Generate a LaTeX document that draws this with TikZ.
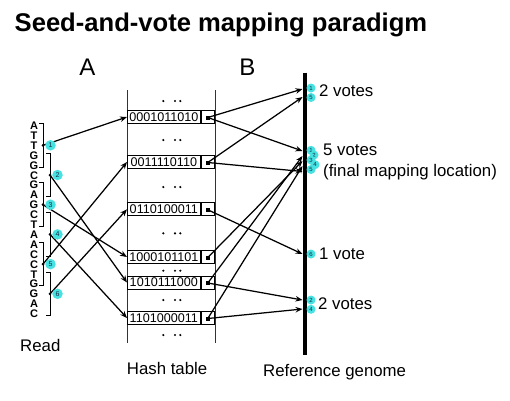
\documentclass[tikz,border=0pt]{standalone}
\usepackage{fontspec}
\setmainfont{Liberation Sans}
\usetikzlibrary{arrows.meta}
\definecolor{seedcyan}{RGB}{70,225,225}
\definecolor{numtext}{RGB}{20,45,70}
\begin{document}
\begin{tikzpicture}[x=1pt,y=-1pt,
  conn/.style={line width=1.25pt,-{Stealth[length=7pt,width=5.5pt]}},
  bracketline/.style={line width=1pt},
  tableline/.style={line width=0.8pt, black!80},
  lbl/.style={font=\fontsize{16.8}{18}\selectfont, inner sep=0pt, anchor=base west},
  letter/.style={font=\bfseries\fontsize{11}{11}\selectfont, inner sep=0pt, anchor=base},
  seeddot/.style={circle, fill=black, minimum size=3pt, inner sep=0pt},
  seedmark/.style={circle, fill=seedcyan, minimum size=10.5pt, inner sep=0pt, font=\fontsize{7}{7}\selectfont, text=numtext},
  gmark/.style={circle, fill=seedcyan, minimum size=9pt, inner sep=0pt, font=\fontsize{6}{6}\selectfont, text=numtext},
  entrybox/.style={draw, line width=0.7pt, minimum width=73pt, minimum height=13pt, inner sep=0pt, font=\fontsize{12.6}{13}\selectfont, anchor=west, fill=white},
  ptrbox/.style={draw, line width=0.7pt, minimum width=13.5pt, minimum height=13pt, inner sep=0pt, anchor=west, fill=white},
  ptrsq/.style={fill=black, minimum size=4pt, inner sep=0pt}
]
\useasboundingbox (0,0) rectangle (510,400);
\fill[white] (0,0) rectangle (510,400);

% titles
\node[anchor=base west, inner sep=0pt, font=\bfseries\fontsize{25.6}{28}\selectfont] (title) at (14.5,31.7) {Seed-and-vote mapping paradigm};
\node[anchor=base, inner sep=0pt, font=\fontsize{24}{26}\selectfont] (labA) at (87.5,75) {A};
\node[anchor=base, inner sep=0pt, font=\fontsize{24}{26}\selectfont] (labB) at (247.3,75) {B};

% read
\foreach \L [count=\i from 0] in {A,T,T,G,G,C,G,A,G,C,T,A,A,C,C,T,G,G,A,C}
  \node[letter] (r\i) at (34,{125.5+9.9*\i+4}) {\L};
\foreach \s in {1,...,6} {
  \pgfmathsetmacro\yt{125.5+9.9*3*(\s-1)-2}
  \pgfmathsetmacro\yb{125.5+9.9*(3*(\s-1)+4)+2}
  \pgfmathsetmacro\yc{125.5+9.9*(3*(\s-1)+2)}
  \pgfmathsetmacro\xb{isodd(\s)?43:50}
  \draw[bracketline] (\xb-4,\yt) -- (\xb,\yt) -- (\xb,\yb) -- (\xb-4,\yb);
  \node[seeddot] (s\s) at (\xb,\yc) {};
  \coordinate (m\s) at (\xb+7.5,\yc);
}
\node[lbl] (readlbl) at (20,351) {Read};

% hash table
\draw[tableline] (127,90) -- (127,343);
\draw[tableline] (215,90) -- (215,343);
\foreach \y in {101,140,187,233.3,270.7,300,335}
  \foreach \x in {163.3,175,180.3}
    \fill (\x,\y) circle (1.2);
\foreach \n/\code/\y in {e1/0001011010/117,e2/0011110110/162,e3/0110100011/209.3,e4/1000101101/257,e5/1010111000/282.5,e6/1101000011/318} {
  \node[entrybox] (\n) at (127,\y) {\code};
  \node[ptrbox] (\n p) at (\n.east) {};
  \node[ptrsq] (\n s) at ([yshift=-0.5pt]\n p.center) {};
}
\node[lbl] (hashlbl) at (126.7,374) {Hash table};

% genome
\draw[line width=3.5pt] (305,72.5) -- (305,355);
\foreach \n/\y in {g1a/89,g1b/97,g2a/151,g2b/156,g2c/161,g2d/166,g2e/171.5,g3/254,g4a/300,g4b/309}
  \coordinate (\n) at (302.5,\y);
\node[lbl] (genlbl) at (263,376) {Reference genome};

% seed -> hash
\draw[conn] (s1.center) -- (e1.west);
\draw[conn] (s2.center) -- (e5.west);
\draw[conn] (s3.center) -- (e4.west);
\draw[conn] (s4.center) -- (e6.west);
\draw[conn] (s5.center) -- (e2.west);
\draw[conn] (s6.center) -- (e3.west);

% hash -> genome
\draw[conn] (e1s.center) -- (g1a);
\draw[conn] (e1s.center) -- (g2a);
\draw[conn] (e2s.center) -- (g1b);
\draw[conn] (e2s.center) -- (g2e);
\draw[conn] (e3s.center) -- (g3);
\draw[conn] (e4s.center) -- (g2c);
\draw[conn] (e5s.center) -- (g2b);
\draw[conn] (e5s.center) -- (g4a);
\draw[conn] (e6s.center) -- (g2d);
\draw[conn] (e6s.center) -- (g4b);

% seed marks
\foreach \s in {1,...,6}
  \node[seedmark] (ms\s) at (m\s) {\s};

% genome marks
\node[gmark] (v1a) at (311,88) {1};
\node[gmark] (v1b) at (311,97.5) {5};
\node[gmark] (v2a) at (311,150.3) {1};
\node[gmark] (v2b) at (314,155) {2};
\node[gmark] (v2c) at (311,160) {3};
\node[gmark] (v2d) at (315,164.7) {4};
\node[gmark] (v2e) at (311,169.5) {5};
\node[gmark] (v3) at (311,254) {6};
\node[gmark] (v4a) at (311,300) {2};
\node[gmark] (v4b) at (311,309.3) {4};

% vote labels
\node[lbl] (t1) at (319,96) {2 votes};
\node[lbl] (t2) at (323,155) {5 votes};
\node[lbl] (t2b) at (323,176) {(final mapping location)};
\node[lbl] (t3) at (319,259.3) {1 vote};
\node[lbl] (t4) at (318,309) {2 votes};
\end{tikzpicture}
\end{document}
